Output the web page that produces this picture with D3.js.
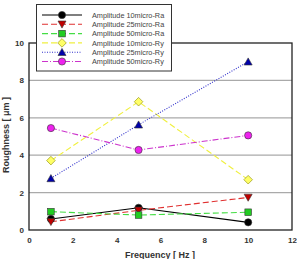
<!DOCTYPE html>
<html><head><meta charset="utf-8">
<script src="https://cdn.jsdelivr.net/npm/d3@7"></script>
<style>body{margin:0;background:#fff}svg{display:block}text{font-family:Arial,"Liberation Sans",sans-serif}</style>
</head><body>
<script>
const freqs = [1, 5, 10];
const seriesNames = ["Amplitude 10micro-Ra","Amplitude 25micro-Ra","Amplitude 50micro-Ra","Amplitude 10micro-Ry","Amplitude 25micro-Ry","Amplitude 50micro-Ry"];
const ra10 = [0.59, 1.19, 0.41];
const ra25 = [0.44, 1.05, 1.74];
const ra50 = [0.98, 0.80, 0.95];
const ry10 = [3.71, 6.86, 2.69];
const ry25 = [2.76, 5.63, 9.0];
const ry50 = [5.45, 4.28, 5.06];
const xTicks = [0, 2, 4, 6, 8, 10, 12];
const yTicks = [0, 2, 4, 6, 8, 10];

const W = 297, H = 259;
const svg = d3.select("body").append("svg").attr("width", W).attr("height", H);
const x = d3.scaleLinear().domain([0, 12]).range([29, 292]);
const y = d3.scaleLinear().domain([0, 10]).range([230, 43]);

// gridlines
svg.append("g").selectAll("line").data(yTicks.filter(d => d > 0 && d < 10)).join("line")
  .attr("x1", x(0)).attr("x2", x(12)).attr("y1", d => y(d)).attr("y2", d => y(d))
  .attr("stroke", "#aaa").attr("stroke-width", 1.2);

// frame
svg.append("rect").attr("x", x(0)).attr("y", y(10)).attr("width", x(12) - x(0)).attr("height", y(0) - y(10))
  .attr("fill", "none").attr("stroke", "#222").attr("stroke-width", 1.3);

// axes
const xa = svg.append("g").attr("transform", `translate(0,${y(0)})`)
  .call(d3.axisBottom(x).tickValues(xTicks).tickSize(0).tickPadding(7).tickFormat(d3.format("d")));
xa.select(".domain").remove();
const ya = svg.append("g").attr("transform", `translate(${x(0)},0)`)
  .call(d3.axisLeft(y).tickValues(yTicks).tickSize(0).tickPadding(5).tickFormat(d3.format("d")));
ya.select(".domain").remove();
svg.selectAll(".tick text").attr("font-size", 8).attr("font-weight", "bold").attr("fill", "#333");

svg.append("text").attr("x", 160).attr("y", 257.5).attr("text-anchor", "middle")
  .attr("font-size", 9).attr("font-weight", "bold").attr("fill", "#333").text("Frequency [ Hz ]");
svg.append("text").attr("transform", `translate(9,135) rotate(-90)`).attr("text-anchor", "middle")
  .attr("font-size", 9).attr("font-weight", "bold").attr("fill", "#333").text("Roughness [ μm ]");

const series = [
  {name: seriesNames[0], vals: ra10, color: "#000", dash: null, marker: "circle", fill: "#000"},
  {name: seriesNames[1], vals: ra25, color: "#e03030", dash: "6,3", marker: "tdown", fill: "#c00000"},
  {name: seriesNames[2], vals: ra50, color: "#44dd44", dash: "6,3", marker: "square", fill: "#22cc22"},
  {name: seriesNames[3], vals: ry10, color: "#f0f040", dash: "6,3", marker: "diamond", fill: "#ffff66"},
  {name: seriesNames[4], vals: ry25, color: "#3333cc", dash: "1,1.5", marker: "tup", fill: "#0000aa"},
  {name: seriesNames[5], vals: ry50, color: "#cc33cc", dash: "6,2,1,2", marker: "circle", fill: "#ee22ee"}
];

function drawMarker(g, type, cx, cy, fill) {
  let el;
  if (type === "circle") el = g.append("circle").attr("cx", cx).attr("cy", cy).attr("r", 3.6);
  else if (type === "square") el = g.append("rect").attr("x", cx - 3.3).attr("y", cy - 3.3).attr("width", 6.6).attr("height", 6.6);
  else if (type === "diamond") el = g.append("path").attr("d", `M${cx},${cy-4.3}L${cx+4.3},${cy}L${cx},${cy+4.3}L${cx-4.3},${cy}Z`);
  else if (type === "tdown") el = g.append("path").attr("d", `M${cx-4},${cy-3.3}L${cx+4},${cy-3.3}L${cx},${cy+3.8}Z`);
  else el = g.append("path").attr("d", `M${cx-4},${cy+3.3}L${cx+4},${cy+3.3}L${cx},${cy-3.8}Z`);
  el.attr("fill", fill).attr("stroke", type === "diamond" ? "#888800" : "#333").attr("stroke-width", 0.6);
}

const line = d3.line().x((d, i) => x(freqs[i])).y(d => y(d));
series.forEach(s => {
  svg.append("path").datum(s.vals).attr("d", line).attr("fill", "none").attr("stroke", s.color)
    .attr("stroke-width", 1.1).attr("stroke-dasharray", s.dash);
});
series.forEach(s => {
  const g = svg.append("g");
  s.vals.forEach((v, i) => drawMarker(g, s.marker, x(freqs[i]), y(v), s.fill));
});

// legend
const lg = svg.append("g");
lg.append("rect").attr("x", 36.5).attr("y", 4.5).attr("width", 135).attr("height", 66.5)
  .attr("fill", "#fff").attr("stroke", "#333").attr("stroke-width", 1);
series.forEach((s, i) => {
  const ly = 15 + i * 9.3;
  lg.append("line").attr("x1", 42).attr("x2", 82).attr("y1", ly).attr("y2", ly)
    .attr("stroke", s.color).attr("stroke-width", 1.1).attr("stroke-dasharray", s.dash);
  drawMarker(lg, s.marker, 62, ly, s.fill);
  lg.append("text").attr("x", 92).attr("y", ly + 2.6).attr("font-size", 7.3).attr("fill", "#444").text(s.name);
});
</script>
</body></html>
